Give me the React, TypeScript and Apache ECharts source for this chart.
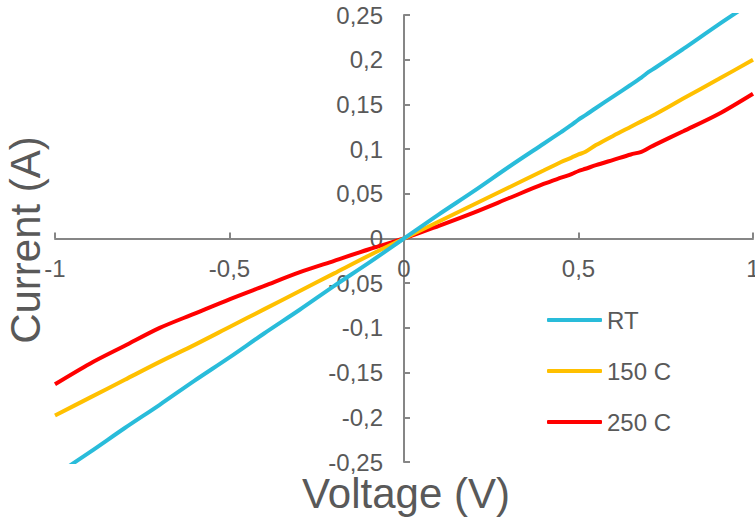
import React, { useEffect, useRef } from "react";
import * as echarts from "echarts";

const voltage = [-1, -0.9, -0.8, -0.7, -0.6, -0.5, -0.4, -0.3, -0.2, -0.1, 0, 0.1, 0.2, 0.3, 0.4, 0.45, 0.48, 0.5, 0.52, 0.55, 0.6, 0.65, 0.68, 0.7, 0.72, 0.8, 0.9, 1];
const currentRT = [-0.265, -0.239, -0.212, -0.186, -0.159, -0.133, -0.106, -0.08, -0.053, -0.027, 0, 0.027, 0.053, 0.08, 0.106, 0.119, 0.127, 0.133, 0.138, 0.146, 0.159, 0.172, 0.18, 0.186, 0.191, 0.212, 0.239, 0.265];
const current150 = [-0.198, -0.178, -0.158, -0.138, -0.119, -0.099, -0.079, -0.059, -0.039, -0.019, 0, 0.019, 0.038, 0.057, 0.076, 0.0856, 0.0905, 0.094, 0.097, 0.1045, 0.115, 0.125, 0.131, 0.135, 0.139, 0.1565, 0.178, 0.2];
const current250 = [-0.163, -0.14, -0.12, -0.1, -0.084, -0.068, -0.053, -0.038, -0.025, -0.012, 0, 0.0142, 0.029, 0.045, 0.061, 0.068, 0.072, 0.0755, 0.078, 0.082, 0.088, 0.094, 0.097, 0.101, 0.105, 0.12, 0.139, 0.162];
const seriesNames = ["RT", "150 C", "250 C"];
const seriesColors = ["#29BCDA", "#FFC000", "#FF0000"];
const xTitle = "Voltage (V)";
const yTitle = "Current (A)";

const fmt = (v: number) => String(Math.round(v * 100) / 100).replace(".", ",");

export default function App() {
  const ref = useRef<HTMLDivElement>(null);
  useEffect(() => {
    document.body.style.margin = "0";
    if (!ref.current) return;
    const chart = echarts.init(ref.current, null, { renderer: "svg" });
    const allData = [currentRT, current150, current250];
    const textColor = "#595959";
    const axisColor = "#868686";
    const font = "Liberation Sans, Arial, sans-serif";
    const gridLeft = 55;
    const gridRight = 2;
    const gridTop = 15;
    const gridBottom = 55;
    const gridW = 755 - gridLeft - gridRight;
    const gridH = 517 - gridTop - gridBottom;
    // move axes so they cross at the origin (x = 0, y = 0)
    const yAxisOffset = -gridW / 2;
    const xAxisOffset = -gridH / 2;
    chart.setOption({
      animation: false,
      textStyle: { fontFamily: font },
      grid: { left: gridLeft, right: gridRight, top: gridTop, bottom: gridBottom, containLabel: false, outerBoundsMode: "none" },
      xAxis: {
        type: "value",
        min: -1,
        max: 1,
        interval: 0.5,
        position: "bottom",
        offset: xAxisOffset,
        splitLine: { show: false },
        axisLine: { onZero: false, lineStyle: { color: axisColor, width: 2 } },
        axisTick: { show: true, inside: true, length: 6, lineStyle: { color: axisColor, width: 2 } },
        axisLabel: { color: textColor, fontSize: 24, margin: 18, formatter: fmt, showMinLabel: true, showMaxLabel: true },
      },
      yAxis: {
        type: "value",
        min: -0.25,
        max: 0.25,
        interval: 0.05,
        position: "left",
        offset: yAxisOffset,
        splitLine: { show: false },
        axisLine: { onZero: false, lineStyle: { color: axisColor, width: 2 } },
        axisTick: { show: true, inside: true, length: 6, lineStyle: { color: axisColor, width: 2 } },
        axisLabel: { color: textColor, fontSize: 24, margin: 21, formatter: fmt, showMinLabel: true, showMaxLabel: true },
      },
      legend: {
        orient: "vertical",
        left: 547,
        top: 308,
        padding: 0,
        itemWidth: 55,
        itemHeight: 4,
        itemGap: 27,
        icon: "roundRect",
        data: seriesNames,
        textStyle: { color: textColor, fontSize: 24, lineHeight: 24 },
      },
      graphic: [
        {
          type: "text",
          x: 406,
          y: 493,
          style: { text: xTitle, fill: textColor, fontSize: 42, fontFamily: font, align: "center", verticalAlign: "middle" },
        },
        {
          type: "text",
          x: 25,
          y: 240,
          rotation: Math.PI / 2,
          style: { text: yTitle, fill: textColor, fontSize: 42, fontFamily: font, align: "center", verticalAlign: "middle" },
        },
      ],
      series: seriesNames.map((name, i) => ({
        name,
        type: "line",
        data: voltage.map((v, j) => [v, allData[i][j]]),
        showSymbol: false,
        symbol: "none",
        smooth: 0.3,
        clip: true,
        lineStyle: { color: seriesColors[i], width: 4 },
        itemStyle: { color: seriesColors[i] },
        z: 3 - i,
      })),
    });
    return () => chart.dispose();
  }, []);
  return <div ref={ref} style={{ width: 755, height: 517 }} />;
}
